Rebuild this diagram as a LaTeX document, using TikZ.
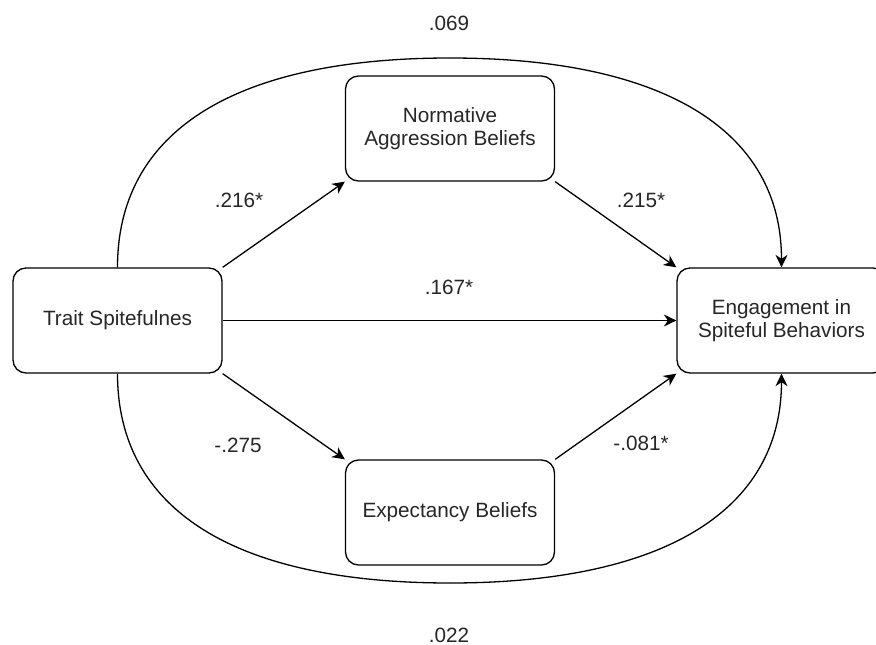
\documentclass[tikz,border=0pt]{standalone}
\usepackage{fontspec}
\setmainfont{Liberation Sans}
\usetikzlibrary{arrows.meta,calc}
\begin{document}
\begin{tikzpicture}[x=1pt,y=-1pt,
  box/.style={draw=black, line width=1.3pt, rounded corners=13pt, minimum width=209pt, minimum height=105pt, inner sep=0pt, align=center, font=\fontsize{20.7}{23.5}\selectfont, text=black!85},
  lbl/.style={font=\fontsize{20.7}{23.5}\selectfont, text=black!85, inner sep=0pt},
  conn/.style={line width=1.3pt, draw=black, -{Stealth[length=12.5pt,width=12pt,inset=4pt]}}
]
\useasboundingbox (0,0) rectangle (876,645);
\clip (0,0) rectangle (876,645);

\node[box] (trait) at (117.5,320.5) {Trait Spitefulnes};
\node[box] (norm) at (450,128.5) {Normative\\Aggression Beliefs};
\node[box] (expb) at (450,512.5) {Expectancy Beliefs};
\node[box] (eng) at (781.5,320.5) {Engagement in\\Spiteful Behaviors};

\coordinate (toppk) at (450,58);
\coordinate (botpk) at (450,583);

\draw[line width=1.3pt] (trait.north) .. controls (117.5,131.5) and (234,58) .. (toppk);
\draw[conn] (toppk) .. controls (665.5,58) and (781.5,131.5) .. (eng.north);
\draw[line width=1.3pt] (trait.south) .. controls (117.5,509.5) and (234,583) .. (botpk);
\draw[conn] (botpk) .. controls (665.5,583) and (781.5,509.5) .. (eng.south);

\draw[conn] (trait.north east) -- (norm.south west);
\draw[conn] (norm.south east) -- (eng.north west);
\draw[conn] (trait.east) -- (eng.west);
\draw[conn] (trait.south east) -- (expb.north west);
\draw[conn] (expb.north east) -- (eng.south west);

\node[lbl] (l069) at (449,23) {.069};
\node[lbl] (l216) at (239,200) {.216*};
\node[lbl] (l215) at (641,200) {.215*};
\node[lbl] (l167) at (449,287) {.167*};
\node[lbl] (l275) at (238,445) {-.275};
\node[lbl] (l081) at (641,443) {-.081*};
\node[lbl] (l022) at (449,635) {.022};
\end{tikzpicture}
\end{document}
